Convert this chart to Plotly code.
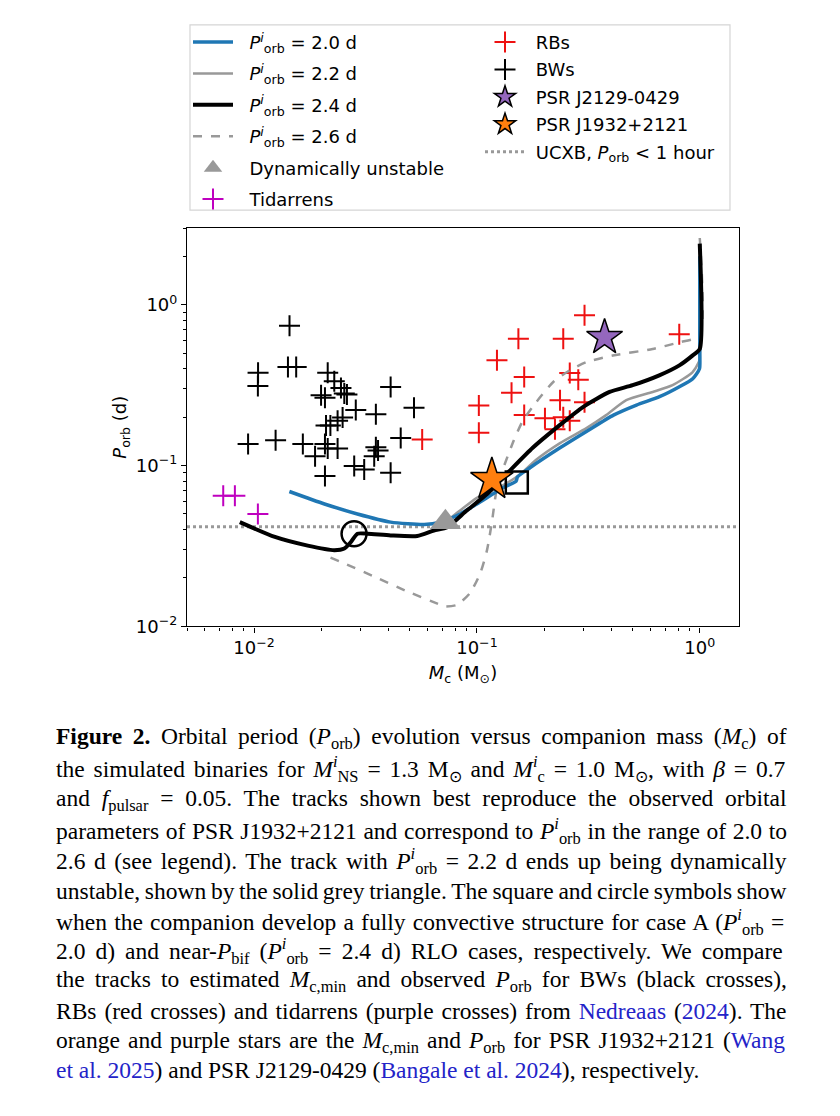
import math
import re
import plotly.graph_objects as go

W, H = 840, 1116

# ---------------- data ----------------
# Evolutionary tracks (companion mass [Msun], orbital period [d])
mc_20 = [1.0, 1.0, 0.997, 0.93, 0.81, 0.66, 0.52, 0.41, 0.31, 0.236, 0.173, 0.152, 0.15, 0.1315, 0.1, 0.084, 0.0686, 0.058, 0.041, 0.0291, 0.0207, 0.0144]
p_20 = [2.0, 0.51, 0.40, 0.347, 0.309, 0.268, 0.238, 0.206, 0.163, 0.129, 0.097, 0.085, 0.080, 0.073, 0.0577, 0.050, 0.0445, 0.0430, 0.0445, 0.050, 0.0577, 0.069]

mc_22 = [1.0, 1.0, 0.99, 0.927, 0.755, 0.615, 0.468, 0.38, 0.31, 0.236, 0.185, 0.156, 0.13, 0.1, 0.084, 0.0722]
p_22 = [2.2, 0.46, 0.44, 0.38, 0.316, 0.287, 0.255, 0.206, 0.171, 0.138, 0.109, 0.088, 0.075, 0.063, 0.0525, 0.0445]

mc_24 = [1.0, 1.0, 0.927, 0.81, 0.658, 0.5, 0.394, 0.3, 0.236, 0.178, 0.14, 0.111, 0.09, 0.0736, 0.0641, 0.054, 0.041, 0.0323, 0.0291, 0.0272, 0.0254, 0.0229, 0.0174, 0.0124, 0.00863]
p_24 = [2.4, 0.531, 0.483, 0.42, 0.364, 0.316, 0.287, 0.232, 0.179, 0.129, 0.0925, 0.0665, 0.0525, 0.0414, 0.0395, 0.0365, 0.0368, 0.0377, 0.0377, 0.0335, 0.0305, 0.0298, 0.0318, 0.036, 0.0445]

mc_26 = [1.0, 1.0, 0.81, 0.615, 0.407, 0.31, 0.261, 0.22, 0.185, 0.16, 0.146, 0.1315, 0.123, 0.117, 0.111, 0.1035, 0.093, 0.0813, 0.0709, 0.0686, 0.0487, 0.0346, 0.0245, 0.0207]
p_26 = [2.6, 0.642, 0.584, 0.531, 0.483, 0.44, 0.391, 0.331, 0.249, 0.188, 0.142, 0.097, 0.073, 0.0455, 0.0298, 0.0214, 0.0161, 0.0136, 0.0133, 0.0136, 0.0165, 0.0204, 0.0252, 0.0277]

# Observed systems
bw_mc = [0.01442, 0.01419, 0.01545, 0.01042, 0.0104, 0.0094, 0.01249, 0.01655, 0.01878, 0.0208,
         0.01998, 0.0208, 0.0214, 0.0229, 0.02454, 0.0254, 0.0261, 0.0286, 0.0352, 0.041,
         0.0522, 0.0455, 0.02103, 0.022, 0.0237, 0.02496, 0.0208, 0.0214, 0.0237, 0.02814,
         0.0312, 0.0352, 0.036, 0.0346, 0.041]
bw_p = [0.739, 0.41, 0.41, 0.378, 0.313, 0.1363, 0.1435, 0.136, 0.1144, 0.0862,
        0.274, 0.264, 0.378, 0.334, 0.304, 0.2806, 0.2767, 0.2216, 0.2084, 0.3084,
        0.229, 0.1483, 0.1775, 0.1775, 0.1897, 0.1988, 0.1363, 0.1275, 0.1275, 0.0993,
        0.0947, 0.13, 0.124, 0.1144, 0.0903]

rb_mc = [0.304, 0.1535, 0.244, 0.809, 0.123, 0.163, 0.261, 0.285, 0.143, 0.102,
         0.236, 0.304, 0.163, 0.202, 0.244, 0.261, 0.224, 0.102, 0.0568]
rb_p = [0.86, 0.615, 0.615, 0.656, 0.452, 0.355, 0.377, 0.342, 0.284, 0.236,
        0.255, 0.248, 0.206, 0.197, 0.2, 0.19, 0.168, 0.16, 0.145]

tid_mc = [0.00727, 0.0082, 0.0104]
tid_p = [0.065, 0.065, 0.050]

j2129_mc, j2129_p = [0.374], [0.627]
j1932_mc, j1932_p = [0.1167], [0.082]
unstable_mc, unstable_p = [0.0722], [0.0445]
conv_caseA_mc, conv_caseA_p = [0.151], [0.0784]
conv_bif_mc, conv_bif_p = [0.0281], [0.0377]

ucxb_p = 1.0 / 24.0
x_range = [0.005, 1.5]
y_range = [0.01, 3.0]

major_tickvals = [0.01, 0.1, 1.0]
major_ticktext = ["10<sup>\u22122</sup>", "10<sup>\u22121</sup>", "10<sup>0</sup>"]
minor_tickvals = [m * 10.0 ** e for e in (-3, -2, -1, 0) for m in range(2, 10)]

# ---------------- figure ----------------
BLUE = "#1f77b4"
GREY = "#999999"
FONT = "DejaVu Sans"
NB = "\u00a0"


def fx(p, off=8):
    return (p - off) / W


def fy(p, off=8):
    return 1 - (p - off) / H


def porb_label(v):
    return NB * 2 + "<i>P</i><sup><i>i</i></sup><sub>orb</sub> = " + v + " d"


fig = go.Figure()

fig.add_trace(go.Scatter(x=bw_mc, y=bw_p, mode="markers", name=NB + "BWs",
                         marker=dict(symbol="cross-thin", size=15, line=dict(width=2, color="black")),
                         legend="legend2", legendgroup="bw", legendrank=2))
fig.add_trace(go.Scatter(x=rb_mc, y=rb_p, mode="markers", name=NB + "RBs",
                         marker=dict(symbol="cross-thin", size=15, line=dict(width=2, color="#ee1111")),
                         legend="legend2", legendgroup="rb", legendrank=1))
fig.add_trace(go.Scatter(x=tid_mc, y=tid_p, mode="markers", name=NB * 2 + "Tidarrens",
                         marker=dict(symbol="cross-thin", size=15, line=dict(width=2, color="#bf00bf")),
                         legend="legend", legendgroup="tid", legendrank=6))

fig.add_trace(go.Scatter(x=x_range, y=[ucxb_p, ucxb_p], mode="lines",
                         name=NB + "UCXB, <i>P</i><sub>orb</sub> < 1 hour",
                         line=dict(color=GREY, width=3, dash="dot"),
                         legend="legend2", legendgroup="ucxb", legendrank=5))

fig.add_trace(go.Scatter(x=mc_26, y=p_26, mode="lines", name=porb_label("2.6"),
                         line=dict(color=GREY, width=2.5, dash="dash", shape="spline", smoothing=0.6),
                         legend="legend", legendgroup="t26", legendrank=4))
fig.add_trace(go.Scatter(x=mc_22, y=p_22, mode="lines", name=porb_label("2.2"),
                         line=dict(color=GREY, width=2.5, shape="spline", smoothing=0.6),
                         legend="legend", legendgroup="t22", legendrank=2))
fig.add_trace(go.Scatter(x=mc_20, y=p_20, mode="lines", name=porb_label("2.0"),
                         line=dict(color=BLUE, width=3.5, shape="spline", smoothing=0.6),
                         legend="legend", legendgroup="t20", legendrank=1))
fig.add_trace(go.Scatter(x=mc_24, y=p_24, mode="lines", name=porb_label("2.4"),
                         line=dict(color="black", width=4, shape="spline", smoothing=0.6),
                         legend="legend", legendgroup="t24", legendrank=3))

fig.add_trace(go.Scatter(x=unstable_mc, y=unstable_p, mode="markers", name=NB * 2 + "Dynamically unstable",
                         marker=dict(symbol="triangle-up", size=27, color=GREY, line=dict(width=0)),
                         legend="legend", legendgroup="unst", legendrank=5))
fig.add_trace(go.Scatter(x=conv_caseA_mc, y=conv_caseA_p, mode="markers", showlegend=False,
                         marker=dict(symbol="square-open", size=22, color="black", line=dict(width=2.5))))
fig.add_trace(go.Scatter(x=conv_bif_mc, y=conv_bif_p, mode="markers", showlegend=False,
                         marker=dict(symbol="circle-open", size=25, color="black", line=dict(width=2.5))))
fig.add_trace(go.Scatter(x=j2129_mc, y=j2129_p, mode="markers", name=NB + "PSR J2129-0429",
                         marker=dict(symbol="star", size=27, color="#9467bd", line=dict(width=1.5, color="black")),
                         legend="legend2", legendgroup="j2129", legendrank=3))
fig.add_trace(go.Scatter(x=j1932_mc, y=j1932_p, mode="markers", name=NB + "PSR J1932+2121",
                         marker=dict(symbol="star", size=32, color="#ff7f0e", line=dict(width=1.5, color="black")),
                         legend="legend2", legendgroup="j1932", legendrank=4))

axis_common = dict(type="log", showline=True, linecolor="black", linewidth=1.2, mirror=True,
                   showgrid=False, zeroline=False, ticks="outside", ticklen=5, tickwidth=1.2,
                   tickcolor="black", tickfont=dict(family=FONT, size=18, color="black"),
                   tickmode="array", tickvals=major_tickvals, ticktext=major_ticktext,
                   minor=dict(tickmode="array", tickvals=minor_tickvals, ticks="outside",
                              ticklen=3, tickwidth=1, tickcolor="black", showgrid=False))

PX, PY = 3, 3  # effective page offsets for the plot area

fig.update_layout(
    width=W, height=H,
    paper_bgcolor="white", plot_bgcolor="white",
    margin=dict(l=0, r=0, t=0, b=0),
    font=dict(family=FONT, size=18, color="black"),
    xaxis=dict(axis_common, domain=[fx(182, PX), fx(734, PX)],
               range=[math.log10(x_range[0]), math.log10(x_range[1])],
               title=dict(text="<i>M</i><sub>c</sub> (M<sub>\u2299</sub>)", font=dict(family=FONT, size=18), standoff=9)),
    yaxis=dict(axis_common, domain=[fy(627, PY), fy(225, PY)],
               range=[math.log10(y_range[0]), math.log10(y_range[1])],
               title=dict(text="<i>P</i><sub>orb</sub> (d)", font=dict(family=FONT, size=18), standoff=4)),
    legend=dict(x=fx(188), y=fy(24), xanchor="left", yanchor="top", bgcolor="rgba(0,0,0,0)",
                borderwidth=0, font=dict(family=FONT, size=18), itemwidth=40,
                traceorder="grouped", tracegroupgap=5, itemsizing="trace"),
    legend2=dict(x=fx(480), y=fy(24), xanchor="left", yanchor="top", bgcolor="rgba(0,0,0,0)",
                 borderwidth=0, font=dict(family=FONT, size=18), itemwidth=40,
                 traceorder="grouped", tracegroupgap=1, itemsizing="trace"),
    showlegend=True,
)

fig.add_shape(type="rect", xref="paper", yref="paper",
              x0=fx(190), x1=fx(730), y0=fy(212), y1=fy(25),
              line=dict(color="#d5d5d5", width=1.2), fillcolor="rgba(0,0,0,0)", layer="below")

# ---------------- caption (justified via word-spacing) ----------------
ROMAN = {' ': 250, '!': 333, '(': 333, ')': 333, '+': 564, ',': 250, '-': 333, '.': 250, '/': 278,
         ':': 278, ';': 278, '<': 564, '=': 564, '>': 564, '?': 444,
         'A': 722, 'B': 667, 'C': 667, 'D': 722, 'E': 611, 'F': 556, 'G': 722, 'H': 722, 'I': 333,
         'J': 389, 'K': 722, 'L': 611, 'M': 889, 'N': 722, 'O': 722, 'P': 556, 'Q': 722, 'R': 667,
         'S': 556, 'T': 611, 'U': 722, 'V': 722, 'W': 944, 'X': 722, 'Y': 722, 'Z': 611,
         'a': 444, 'b': 500, 'c': 444, 'd': 500, 'e': 444, 'f': 333, 'g': 500, 'h': 500, 'i': 278,
         'j': 278, 'k': 500, 'l': 278, 'm': 778, 'n': 500, 'o': 500, 'p': 500, 'q': 500, 'r': 333,
         's': 389, 't': 278, 'u': 500, 'v': 500, 'w': 722, 'x': 500, 'y': 500, 'z': 444,
         '\u2299': 838, '\u03b2': 549, '\u2212': 564}
for d in "0123456789":
    ROMAN[d] = 500
ITALIC = {'P': 611, 'M': 833, 'f': 278, 'i': 278, '\u03b2': 500}
BOLD = {'F': 611, 'i': 278, 'g': 500, 'u': 556, 'r': 444, 'e': 444}


def measure(html):
    units = 0.0
    spaces = 0
    small = 0
    ital = 0
    bold = 0
    for tok in re.split(r'(<[^>]+>)', html):
        if tok.startswith('<'):
            t = tok.lower()
            if t in ('<sub>', '<sup>'):
                small += 1
            elif t in ('</sub>', '</sup>'):
                small -= 1
            elif t == '<i>':
                ital += 1
            elif t == '</i>':
                ital -= 1
            elif t == '<b>':
                bold += 1
            elif t == '</b>':
                bold -= 1
            continue
        for ch in tok:
            w = ROMAN.get(ch, 500)
            if ital and ch in ITALIC:
                w = ITALIC[ch]
            if bold and ch in BOLD:
                w = BOLD[ch]
            if small:
                w *= 0.7
            else:
                if ch == ' ':
                    spaces += 1
            units += w
    return units / 1000.0, spaces


LINK = "#2323c8"


def link(t):
    return '<span style="color:%s">%s</span>' % (LINK, t)


caption_lines = [
    "<b>Figure 2.</b> Orbital period (<i>P</i><sub>orb</sub>) evolution versus companion mass (<i>M</i><sub>c</sub>) of",
    "the simulated binaries for <i>M</i><sup><i>i</i></sup><sub>NS</sub> = 1.3 M<sub>\u2299</sub> and <i>M</i><sup><i>i</i></sup><sub>c</sub> = 1.0 M<sub>\u2299</sub>, with <i>\u03b2</i> = 0.7",
    "and <i>f</i><sub>pulsar</sub> = 0.05. The tracks shown best reproduce the observed orbital",
    "parameters of PSR J1932+2121 and correspond to <i>P</i><sup><i>i</i></sup><sub>orb</sub> in the range of 2.0 to",
    "2.6 d (see legend). The track with <i>P</i><sup><i>i</i></sup><sub>orb</sub> = 2.2 d ends up being dynamically",
    "unstable, shown by the solid grey triangle. The square and circle symbols show",
    "when the companion develop a fully convective structure for case A (<i>P</i><sup><i>i</i></sup><sub>orb</sub> =",
    "2.0 d) and near-<i>P</i><sub>bif</sub> (<i>P</i><sup><i>i</i></sup><sub>orb</sub> = 2.4 d) RLO cases, respectively. We compare",
    "the tracks to estimated <i>M</i><sub>c,min</sub> and observed <i>P</i><sub>orb</sub> for BWs (black crosses),",
    "RBs (red crosses) and tidarrens (purple crosses) from " + link("Nedreaas") + " (" + link("2024") + "). The",
    "orange and purple stars are the <i>M</i><sub>c,min</sub> and <i>P</i><sub>orb</sub> for PSR J1932+2121 (" + link("Wang"),
    link("et al. 2025") + ") and PSR J2129-0429 (" + link("Bangale et al. 2024") + "), respectively.",
]
line_y = [737, 768, 799, 830, 861, 891, 922, 952, 982, 1012, 1043, 1072]
CAP_LEFT, CAP_RIGHT = 54, 785
CAP_FS = 23.5
for k, (txt, yy) in enumerate(zip(caption_lines, line_y)):
    if k < len(caption_lines) - 1:
        em, nsp = measure(txt)
        extra = (CAP_RIGHT - CAP_LEFT) - em * CAP_FS
        ws = extra / max(nsp, 1)
        txt = '<span style="word-spacing:%.2fpx">%s</span>' % (ws, txt)
    fig.add_annotation(text=txt, xref="paper", yref="paper", x=fx(CAP_LEFT), y=fy(yy, 0),
                       xanchor="left", yanchor="middle", showarrow=False, align="left",
                       font=dict(family="Liberation Serif", size=CAP_FS, color="black"))

fig.write_html("out.html")
